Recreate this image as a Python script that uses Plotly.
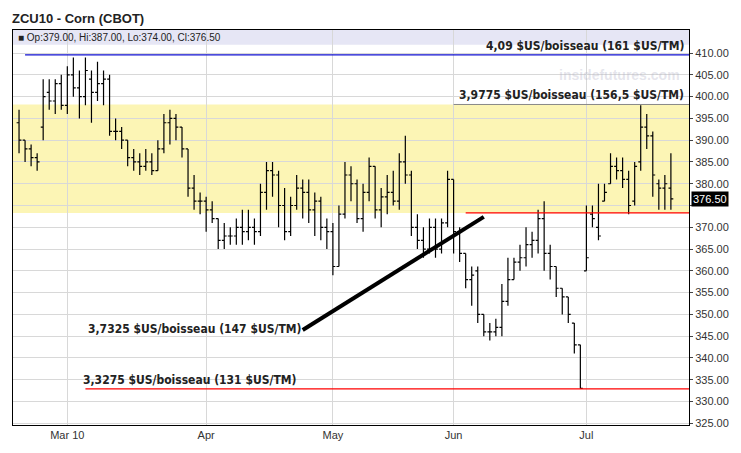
import pandas as pd
import plotly.graph_objects as go

bars = [
(394,397,387,390),(390,390,385,388),(388,389,384,386),(386,387,383,385),(393,404,390,400),(401,404,397,399),(399,404,396,403),(403,405,397,398),
(398,407,396,405),(405,409,400,402),(402,406,395,400),(400,409,398,406),(404,406,394,401),(401,408,399,403),(403,406,398,404),(404,405,391,392),
(392,395,390,392),(392,393,388,390),(390,390,384,386),(386,388,383,385),(385,387,382,384),(384,388,383,385),(385,387,382,383),(383,390,383,388),
(388,396,387,394),(394,397,389,395),(395,396,390,393),(393,393,386,388),(388,388,377,379),(379,382,374,376),(376,378,373,376),
(376,377,369,374),(374,376,371,372),(372,372,365,367),(367,371,365,368),(368,370,366,368),(368,372,366,370),(370,374,366,369),(369,374,367,370),
(370,372,366,369),(369,380,368,378),(378,385,374,383),(383,385,377,382),(382,383,370,375),(375,379,367,369),(369,377,368,375),(375,382,374,379),
(379,381,372,378),(378,381,371,374),(374,378,368,376),(376,377,367,370),(370,372,365,369),
(369,371,359,361),(361,375,361,373),(373,385,372,382),(382,384,376,380),(380,381,371,372),(372,380,369,378),(378,386,376,384),(384,384,372,374),
(374,379,370,377),(377,382,373,378),(378,383,375,376),(376,387,374,385),(385,391,380,382),(382,383,368,370),(370,373,365,367),(367,370,363,365),
(365,372,364,370),(370,372,363,365),(365,372,364,371),(371,383,370,381),
(381,381,364,369),(369,370,362,364),(364,364,356,358),(358,361,352,359),(360,361,348,350),(350,350,345,346),(346,348,344,346),(346,349,345,347),
(347,357,345,353),(353,363,352,358),(358,363,358,362),(362,366,360,363),(363,370,361,366),(366,369,363,367),(367,374,364,372),(372,376,360,364),
(364,366,358,361),(361,361,354,356),(356,356,350,354),(354,354,348,350),(348,348,341,343),(343,343,333,333),
(360,375,360,363),(373,375,370,372),(370,380,367,368),(376,380,376,378),(380,387,380,384),(384,386,381,383),(383,386,379,381),(381,383,373,375),
(376,385,375,384),(385,398,383,393),(393,396,388,391),(391,392,377,382),(380,381,374,379),(379,382,374,380),(379,387,374,376.5),
]
holidays = ["2010-02-15", "2010-04-02", "2010-05-31", "2010-07-05"]
dates = [d for d in pd.bdate_range("2010-02-17", "2010-07-30") if d.strftime("%Y-%m-%d") not in holidays][:len(bars)]
opens = [b[0] for b in bars]; highs = [b[1] for b in bars]; lows = [b[2] for b in bars]; closes = [b[3] for b in bars]

tick_dates = ["2010-03-01", "2010-04-01", "2010-05-03", "2010-06-01", "2010-07-01"]
tick_text = ["Mar 10", "Apr", "May", "Jun", "Jul"]
ytick = list(range(325, 415, 5))

fig = go.Figure(go.Ohlc(x=dates, open=opens, high=highs, low=lows, close=closes,
    increasing_line_color="black", decreasing_line_color="black", line_width=1.2, tickwidth=0.4))

xr = ["2010-02-15 12:00", "2010-07-27"]
fig.update_layout(
    width=725, height=437, margin=dict(l=4, r=40, t=22, b=8),
    paper_bgcolor="white", plot_bgcolor="white", showlegend=False,
    font=dict(family="Liberation Sans", size=11, color="#333"),
    xaxis=dict(range=xr, rangeslider_visible=False,
               rangebreaks=[dict(bounds=["sat", "mon"]), dict(values=holidays)],
               tickvals=tick_dates, ticktext=tick_text, showgrid=True, gridcolor="#d8d8d8",
               showline=True, linecolor="black", mirror=True, ticks="", tickfont=dict(size=11, color="#333")),
    yaxis=dict(side="right", range=[324.6, 415.3], tickvals=ytick,
               ticktext=["" if v == 375 else f"{v:.2f}" for v in ytick],
               showgrid=True, gridcolor="#d8d8d8", showline=True, linecolor="black", mirror=True,
               ticks="outside", ticklen=3, tickfont=dict(size=11, color="#333"), zeroline=False),
)
fig.add_shape(type="rect", xref="paper", yref="paper", x0=0, x1=1, y0=(411.9-324.6)/(415.3-324.6), y1=1,
              fillcolor="#e6e6f5", line_width=0, layer="below")
fig.add_shape(type="rect", xref="paper", yref="y", x0=0, x1=1, y0=373.3, y1=398.2,
              fillcolor="#fbf3a8", opacity=0.85, line_width=0, layer="below")
fig.add_shape(type="line", xref="x", yref="y", x0="2010-02-18", x1=xr[1], y0=409.6, y1=409.6, line=dict(color="#1010d0", width=1.2))
fig.add_shape(type="line", xref="x", yref="y", x0="2010-06-03", x1=xr[1], y0=373.3, y1=373.3, line=dict(color="red", width=1.3))
fig.add_shape(type="line", xref="x", yref="y", x0="2010-03-04", x1=xr[1], y0=332.9, y1=332.9, line=dict(color="#ff0000", width=1.3), layer="above")
fig.add_shape(type="line", xref="x", yref="y", x0="2010-06-01", x1=xr[1], y0=398.2, y1=398.2, line=dict(color="#888", width=1))
fig.add_shape(type="line", xref="x", yref="y", x0="2010-04-26", x1="2010-06-08", y0=346.4, y1=372.4, line=dict(color="black", width=4))

ann = dict(showarrow=False, font=dict(family="DejaVu Sans Condensed, DejaVu Sans", size=12, color="#222", weight="bold"))
fig.add_annotation(text="ZCU10 - Corn (CBOT)", xref="paper", yref="paper", x=-0.005, y=1.0, yshift=2, xanchor="left", yanchor="bottom",
                   showarrow=False, font=dict(family="Liberation Sans", size=13, color="#222", weight="bold"))
fig.add_annotation(text="■ Op:379.00, Hi:387.00, Lo:374.00, Cl:376.50", xref="paper", yref="paper", x=0.005, y=0.999,
                   xanchor="left", yanchor="top", showarrow=False, font=dict(family="Liberation Sans", size=10, color="#222"))
fig.add_annotation(text="insidefutures.com", xref="paper", yref="y", x=0.99, y=405, xanchor="right", showarrow=False,
                   font=dict(family="Liberation Sans", size=14, color="rgba(180,180,200,0.35)", weight="bold"))
fig.add_annotation(text="4,09 $US/boisseau (161 $US/TM)", xref="paper", yref="y", x=0.995, y=409.6, xanchor="right", yanchor="bottom", **ann)
fig.add_annotation(text="3,9775 $US/boisseau (156,5 $US/TM)", xref="paper", yref="y", x=0.995, y=398.2, xanchor="right", yanchor="bottom", **ann)
fig.add_annotation(text="3,7325 $US/boisseau (147 $US/TM)", xref="paper", yref="y", x=0.108, y=346.6, xanchor="left", **ann)
fig.add_annotation(text="3,3275 $US/boisseau (131 $US/TM)", xref="paper", yref="y", x=0.1, y=335.0, xanchor="left", **ann)
fig.add_annotation(text="376.50", xref="paper", yref="y", x=1.003, y=376.5, xanchor="left", showarrow=False, bgcolor="black",
                   borderpad=1, font=dict(family="Liberation Sans", size=11, color="white"))
fig.write_html("out.html")
